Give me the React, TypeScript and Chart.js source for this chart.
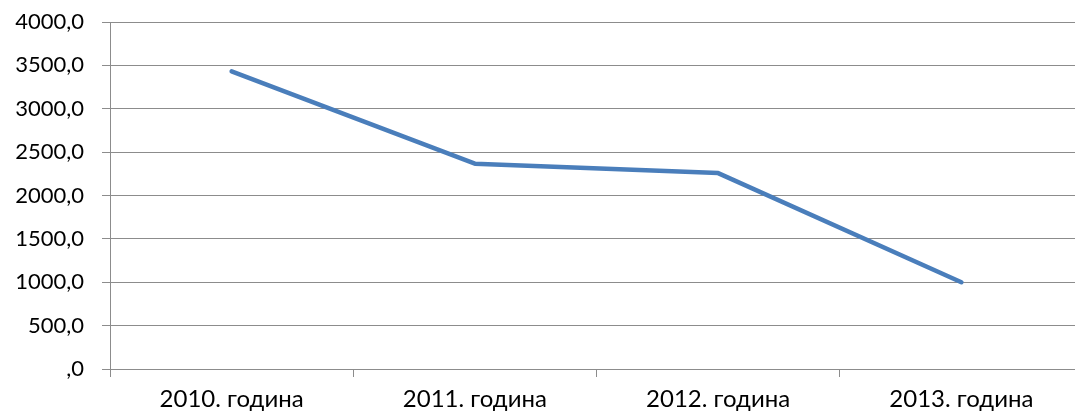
import React, { useEffect, useRef } from "react";
import { Chart, registerables } from "chart.js";

Chart.register(...registerables);

const categories = ["2010. година", "2011. година", "2012. година", "2013. година"];
const values = [3432, 2367, 2258, 1000];
const yMin = 0;
const yMax = 4000;
const yStep = 500;

const formatTick = (v: number) => (v === 0 ? ",0" : v.toFixed(1).replace(".", ","));

export default function App() {
  const ref = useRef<HTMLCanvasElement>(null);
  useEffect(() => {
    document.body.style.margin = "0";
    const ctx = ref.current!.getContext("2d")!;
    const chart = new Chart(ctx, {
      type: "line",
      data: {
        labels: categories,
        datasets: [
          {
            data: values,
            borderColor: "#4A7EBB",
            borderWidth: 4.5,
            pointRadius: 0,
            borderCapStyle: "round",
            borderJoinStyle: "round",
            tension: 0,
          },
        ],
      },
      options: {
        responsive: false,
        animation: false,
        layout: { padding: { top: 22, right: 0, left: 0, bottom: 0 } },
        plugins: { legend: { display: false }, tooltip: { enabled: false } },
        scales: {
          x: {
            offset: true,
            grid: {
              offset: true,
              drawOnChartArea: false,
              drawTicks: true,
              tickLength: 8,
              color: "#8c8c8c",
            },
            border: { display: true, color: "#8c8c8c" },
            ticks: {
              color: "#000",
              font: { family: "Lato", size: 24 },
              padding: 8,
              maxRotation: 0,
            },
            afterFit: (s: any) => {
              s.height = 46;
              s.paddingLeft = 0;
              s.paddingRight = 0;
            },
          },
          y: {
            min: yMin,
            max: yMax,
            grid: { color: "#8c8c8c", tickLength: 8, lineWidth: 1 },
            border: { display: true, color: "#8c8c8c" },
            ticks: {
              stepSize: yStep,
              color: "#000",
              font: { family: "Lato", size: 22 },
              padding: 18,
              callback: (v: any) => formatTick(Number(v)),
            },
            afterFit: (s: any) => {
              s.width = 110;
              s.paddingTop = 0;
              s.paddingBottom = 0;
            },
          },
        },
      },
    });
    return () => chart.destroy();
  }, []);
  return (
    <div style={{ position: "fixed", left: 0, top: 0, width: 1075, height: 415, overflow: "hidden", background: "#fff" }}>
      <canvas ref={ref} width={1083} height={415} style={{ display: "block", width: 1083, height: 415 }} />
    </div>
  );
}
